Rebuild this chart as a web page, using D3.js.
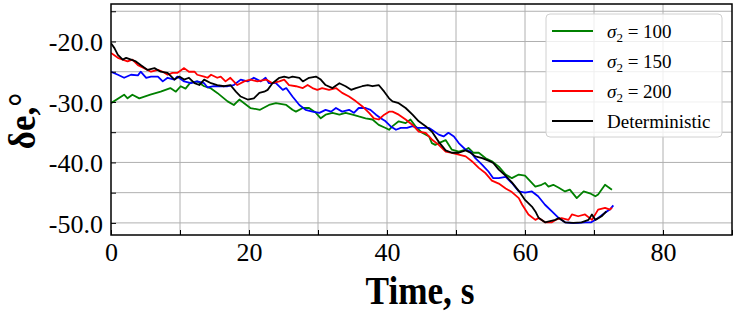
<!DOCTYPE html>
<html>
<head>
<meta charset="utf-8">
<script src="https://cdn.jsdelivr.net/npm/d3@7"></script>
<style>
  body { margin: 0; background: #fff; }
  text { font-family: "Liberation Serif", "Times New Roman", serif; }
</style>
</head>
<body>
<div id="chart"></div>
<script>
// series data (time in s, angle in degrees)
var tGreen = [0, 1.9, 2.4, 3.1, 4.1, 5.7, 7.2, 8.6, 9.4, 10.1, 10.8, 11.5, 12.5, 13.5, 14.4, 15.4, 16.9, 17.8, 18.6, 19.3,
  20.2, 21.6, 22.9, 23.9, 25.4, 26.3, 26.8, 27.8, 28.7, 29.7, 30.4, 31.1, 32.1, 33.1, 34.0, 35.0, 35.9, 36.9, 37.9, 38.8,
  39.8, 40.3, 40.8, 41.7, 42.7, 43.4, 44.1, 45.1, 46.1, 46.5, 47.0, 47.5, 48.5, 49.4, 50.4, 51.4, 51.8, 52.5, 53.3, 54.3,
  55.2, 56.2, 57.2, 58.1, 59.1, 60.0, 61.5, 62.4, 62.9, 63.4, 64.1, 64.9, 65.8, 66.5, 67.5, 68.5, 69.4, 70.2, 70.6, 71.6, 72.6];
var vGreen = [-30.2, -28.8, -29.4, -28.8, -29.4, -28.8, -28.3, -27.7, -28.3, -27.4, -27.8, -26.8, -26.6, -27.4, -27.7, -28.5, -29.9, -30.5, -29.6, -30.2,
  -31.0, -31.3, -30.5, -30.2, -30.5, -31.3, -31.6, -31.0, -31.0, -31.8, -32.7, -32.1, -31.8, -32.1, -31.8, -32.1, -32.4, -32.7, -32.9, -33.8,
  -34.3, -34.6, -34.0, -33.2, -33.5, -32.9, -34.0, -35.1, -35.7, -36.8, -37.1, -36.8, -36.3, -37.9, -38.2, -37.9, -37.6, -38.4, -38.4, -39.3,
  -39.8, -40.7, -42.0, -42.6, -42.0, -42.2, -44.0, -43.7, -43.4, -44.0, -43.7, -44.2, -44.8, -44.5, -45.9, -44.8, -45.1, -45.6, -45.3, -43.7, -44.5];

var tBlue = [0, 1.0, 1.9, 2.9, 3.9, 4.3, 5.1, 5.8, 6.8, 7.5, 8.2, 9.2, 9.6, 10.6, 11.6, 12.5, 13.5, 14.0, 14.9, 15.9,
  16.9, 17.8, 18.8, 19.8, 20.7, 21.7, 22.4, 22.9, 23.9, 24.9, 25.4, 26.3, 27.3, 28.2, 29.2, 30.2, 31.1, 31.9, 32.6, 33.5,
  34.5, 35.2, 35.9, 36.9, 37.6, 38.4, 39.1, 39.8, 40.5, 41.3, 42.0, 42.9, 43.7, 44.4, 45.1, 46.1, 46.5, 47.5, 48.2, 48.9,
  49.7, 50.4, 51.4, 52.1, 52.8, 53.8, 54.7, 55.4, 56.2, 57.2, 58.1, 59.1, 60.0, 61.0, 61.9, 62.9, 63.9, 64.9, 65.8, 66.7,
  67.7, 68.7, 69.6, 70.6, 71.6, 72.3, 72.8];
var vBlue = [-25.0, -25.5, -26.0, -25.5, -25.6, -25.0, -26.0, -25.8, -25.8, -26.6, -26.0, -26.3, -25.8, -26.6, -26.9, -26.6, -26.9, -27.6, -27.4, -27.4,
  -27.4, -27.2, -26.3, -26.6, -26.0, -26.6, -26.0, -26.9, -26.9, -28.0, -27.7, -29.1, -30.5, -31.3, -31.6, -31.8, -31.3, -31.6, -31.0, -31.6,
  -31.3, -31.8, -31.0, -31.0, -31.3, -32.1, -32.7, -33.2, -34.0, -34.6, -34.3, -34.3, -34.0, -34.3, -34.3, -34.3, -34.6, -35.4, -35.7, -35.1,
  -35.7, -36.8, -37.9, -38.2, -39.3, -40.4, -41.5, -42.6, -42.6, -42.4, -43.4, -44.8, -45.0, -44.8, -45.6, -47.0, -48.1, -49.2, -49.9, -50.0,
  -50.0, -49.9, -49.9, -49.2, -48.3, -47.8, -47.1];

var tRed = [0, 1.0, 1.7, 2.4, 3.1, 3.9, 4.8, 5.8, 6.8, 7.5, 8.2, 8.9, 9.6, 10.6, 11.3, 12.1, 12.5, 13.5, 14.0, 14.5,
  15.4, 15.9, 16.6, 17.3, 18.3, 19.3, 20.2, 21.2, 22.5, 23.4, 24.4, 25.1, 25.8, 26.8, 27.8, 28.5, 29.2, 29.9, 30.6, 31.6,
  32.6, 33.5, 34.5, 35.5, 36.4, 37.4, 38.1, 38.8, 39.6, 40.3, 40.8, 41.7, 42.7, 43.7, 44.6, 45.6, 46.5, 47.5, 48.5, 49.4,
  50.4, 51.4, 52.3, 53.3, 54.3, 55.2, 56.2, 57.2, 58.1, 59.1, 59.6, 60.5, 61.5, 62.0, 62.9, 63.9, 64.6, 65.3, 66.3, 66.8,
  67.7, 68.7, 69.7, 70.6, 71.6, 72.3, 72.6];
var vRed = [-21.9, -22.7, -23.0, -23.3, -23.0, -23.9, -24.4, -25.0, -24.7, -25.0, -25.5, -25.2, -25.2, -24.4, -25.0, -25.0, -25.5, -25.8, -26.0, -25.5,
  -26.0, -25.8, -26.6, -26.0, -27.2, -26.6, -26.3, -26.6, -26.3, -26.9, -26.6, -26.3, -27.2, -27.4, -27.7, -27.2, -27.7, -28.0, -27.7, -28.0,
  -27.7, -28.5, -29.1, -29.9, -30.7, -31.8, -32.7, -32.9, -32.1, -31.6, -31.6, -32.1, -32.9, -33.8, -34.9, -35.1, -36.2, -37.1, -38.2, -38.4,
  -38.7, -39.0, -39.8, -40.9, -41.8, -43.0, -43.5, -44.3, -44.9, -45.9, -47.0, -48.6, -49.5, -49.2, -49.9, -49.9, -49.4, -49.2, -49.5, -48.6,
  -48.9, -48.6, -49.5, -47.8, -47.5, -47.8, -47.5];

var tDet = [0, 0.5, 1.0, 1.7, 2.2, 2.9, 3.6, 4.3, 5.3, 6.3, 7.2, 8.2, 9.2, 9.9, 10.6, 11.3, 12.1, 12.8, 13.5, 14.5,
  15.4, 16.4, 17.3, 18.1, 18.8, 19.8, 20.7, 21.5, 22.2, 22.7, 23.4, 24.4, 25.1, 25.8, 26.3, 27.3, 27.8, 28.7, 29.7, 30.4,
  31.1, 32.1, 33.1, 34.0, 34.8, 35.5, 36.4, 37.2, 37.9, 38.8, 39.6, 40.3, 40.8, 41.7, 42.7, 43.7, 44.6, 45.6, 46.5, 47.5,
  48.5, 49.4, 50.4, 51.4, 52.1, 52.8, 53.8, 54.7, 55.4, 56.2, 57.2, 58.1, 59.1, 60.0, 61.0, 61.5, 62.0, 62.9, 64.4, 64.9,
  65.8, 67.0, 68.2, 69.2, 69.7, 70.2, 71.1, 71.8];
var vDet = [-20.3, -21.1, -22.2, -23.0, -22.7, -23.0, -23.3, -23.9, -24.7, -24.4, -25.0, -25.2, -26.3, -25.8, -26.3, -26.0, -26.9, -27.2, -26.3, -26.9,
  -27.2, -27.4, -27.2, -28.3, -29.1, -29.6, -29.4, -28.5, -28.3, -28.0, -26.9, -26.0, -25.8, -26.0, -25.8, -26.0, -26.6, -26.0, -25.8, -26.3,
  -27.2, -27.7, -26.9, -27.4, -28.0, -27.7, -27.4, -27.2, -27.4, -27.2, -28.3, -29.4, -29.9, -30.2, -31.0, -32.1, -33.2, -34.0, -34.9, -36.6,
  -38.0, -38.4, -38.4, -38.0, -38.4, -39.0, -39.3, -39.7, -40.1, -41.2, -42.2, -43.3, -44.7, -46.2, -47.3, -48.1, -49.2, -49.9, -49.5, -49.2,
  -49.9, -50.0, -49.9, -49.5, -48.6, -49.5, -48.9, -48.1];

var seriesNames = ["100", "150", "200", "Deterministic"];
var seriesColors = ["green", "blue", "red", "black"];
var xTicks = [0, 20, 40, 60, 80];
var yTicks = [-20, -30, -40, -50];

var W = 735, H = 314;
var margin = {left: 111, right: 3, top: 4, bottom: 79};
var width = W - margin.left - margin.right;
var height = H - margin.top - margin.bottom;

var svg = d3.select("#chart").append("svg")
    .attr("width", W)
    .attr("height", H);

var g = svg.append("g")
    .attr("transform", "translate(" + margin.left + "," + margin.top + ")");

var x = d3.scaleLinear().domain([0, 90]).range([0, width]);
var y = d3.scaleLinear().domain([-52, -13.8]).range([height, 0]);

// grid
g.append("g").selectAll("line")
    .data(d3.range(10, 90, 10))
    .enter().append("line")
    .attr("x1", function (d) { return x(d); })
    .attr("x2", function (d) { return x(d); })
    .attr("y1", 0).attr("y2", height)
    .attr("stroke", "#b0b0b0").attr("stroke-width", 1);

g.append("g").selectAll("line")
    .data(d3.range(-50, -14, 5))
    .enter().append("line")
    .attr("y1", function (d) { return y(d); })
    .attr("y2", function (d) { return y(d); })
    .attr("x1", 0).attr("x2", width)
    .attr("stroke", "#b0b0b0").attr("stroke-width", 1);

// data lines
var series = [
    {t: tGreen, v: vGreen},
    {t: tBlue, v: vBlue},
    {t: tRed, v: vRed},
    {t: tDet, v: vDet}
];

svg.append("defs").append("clipPath").attr("id", "clip")
    .append("rect").attr("width", width).attr("height", height);

var line = d3.line()
    .x(function (d) { return x(d[0]); })
    .y(function (d) { return y(d[1]); });

g.append("g").attr("clip-path", "url(#clip)")
    .selectAll("path")
    .data(series)
    .enter().append("path")
    .attr("d", function (s) { return line(s.t.map(function (t, i) { return [t, s.v[i]]; })); })
    .attr("fill", "none")
    .attr("stroke", function (s, i) { return seriesColors[i]; })
    .attr("stroke-width", 1.8)
    .attr("stroke-linejoin", "round");

// axes with inward ticks
var xAxis = g.append("g")
    .attr("transform", "translate(0," + height + ")")
    .call(d3.axisBottom(x).tickValues(d3.range(0, 91, 10)).tickSize(-5).tickPadding(8)
        .tickFormat(function (d) { return xTicks.indexOf(d) >= 0 ? d : ""; }));

var yAxis = g.append("g")
    .call(d3.axisLeft(y).tickValues(d3.range(-50, -14, 5)).tickSize(-5).tickPadding(8)
        .tickFormat(function (d) { return yTicks.indexOf(d) >= 0 ? d.toFixed(1) : ""; }));

[xAxis, yAxis].forEach(function (a) {
    a.select(".domain").remove();
    a.selectAll("line").attr("stroke", "#000").attr("stroke-width", 1);
    a.selectAll("text")
        .style("font-family", "'Liberation Serif', serif")
        .style("font-size", "26px")
        .attr("fill", "#000");
});
xAxis.selectAll("text").attr("dy", "0.71em");
yAxis.selectAll("text").attr("dy", "0.35em");

// frame
g.append("rect")
    .attr("width", width).attr("height", height)
    .attr("fill", "none").attr("stroke", "#000").attr("stroke-width", 1.5);

// axis labels
svg.append("text")
    .attr("transform", "translate(420,304) scale(0.88,1)")
    .attr("text-anchor", "middle")
    .style("font-size", "40px")
    .style("font-weight", "bold")
    .text("Time, s");

svg.append("text")
    .attr("transform", "translate(35,121) rotate(-90) scale(0.92,1)")
    .attr("text-anchor", "middle")
    .style("font-size", "38px")
    .style("font-weight", "bold")
    .text("δe,°");

// legend
var legend = svg.append("g").attr("transform", "translate(546,14)");
legend.append("rect")
    .attr("width", 176).attr("height", 123)
    .attr("rx", 4)
    .attr("fill", "#fff").attr("fill-opacity", 0.8)
    .attr("stroke", "#d0d0d0").attr("stroke-width", 1);

var items = legend.selectAll("g.item")
    .data(seriesNames)
    .enter().append("g")
    .attr("class", "item")
    .attr("transform", function (d, i) { return "translate(0," + (17 + i * 30) + ")"; });

items.append("line")
    .attr("x1", 6).attr("x2", 47)
    .attr("stroke", function (d, i) { return seriesColors[i]; })
    .attr("stroke-width", 2);

items.each(function (d) {
    var t = d3.select(this).append("text")
        .attr("x", 61).attr("dy", "0.35em")
        .style("font-size", "19px");
    if (d === "Deterministic") {
        t.text(d);
    } else {
        t.append("tspan").style("font-style", "italic").text("σ");
        t.append("tspan").attr("dy", 4).style("font-size", "13px").text("2");
        t.append("tspan").attr("dy", -4).text(" = " + d);
    }
});
</script>
</body>
</html>
